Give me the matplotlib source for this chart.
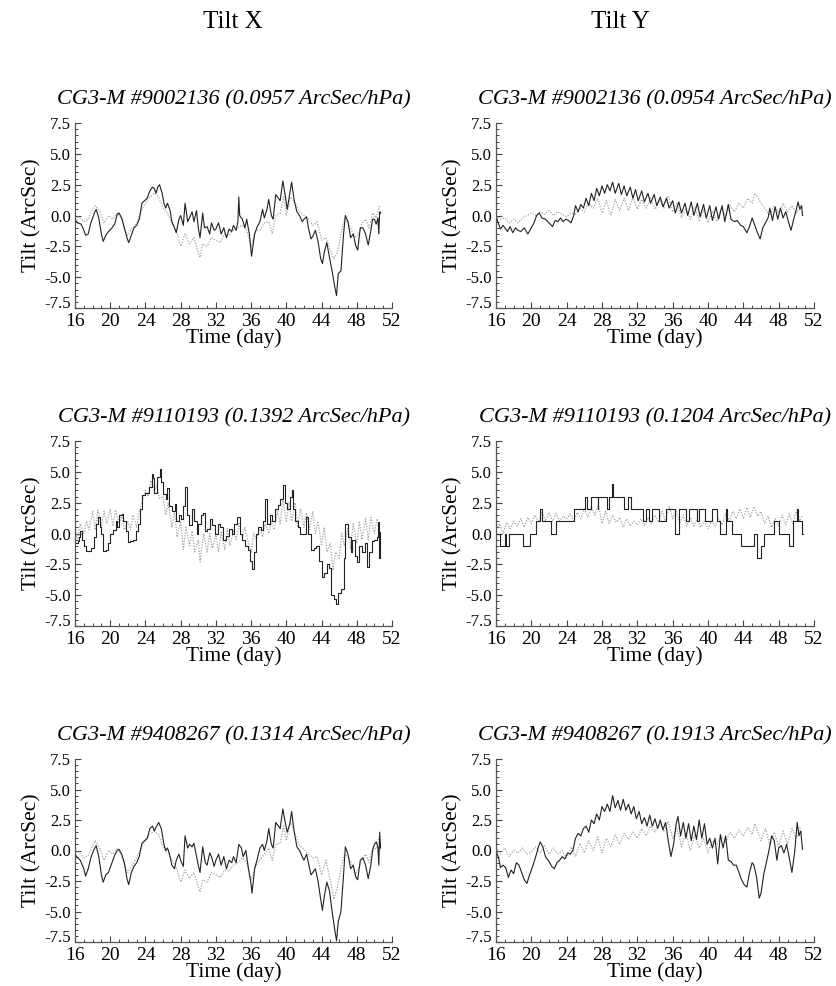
import matplotlib
matplotlib.use("Agg")
import matplotlib.pyplot as plt
import matplotlib.transforms as mtransforms
from matplotlib.ticker import MultipleLocator

plt.rcParams['font.family'] = ['Liberation Serif', 'DejaVu Serif']

column_titles = ["Tilt X", "Tilt Y"]
panel_titles = [
    ["CG3-M #9002136 (0.0957 ArcSec/hPa)", "CG3-M #9002136 (0.0954 ArcSec/hPa)"],
    ["CG3-M #9110193 (0.1392 ArcSec/hPa)", "CG3-M #9110193 (0.1204 ArcSec/hPa)"],
    ["CG3-M #9408267 (0.1314 ArcSec/hPa)", "CG3-M #9408267 (0.1913 ArcSec/hPa)"],
]
x_ticks = [16, 20, 24, 28, 32, 36, 40, 44, 48, 52]
y_ticks = [-7.5, -5.0, -2.5, 0.0, 2.5, 5.0, 7.5]

# ---- Panel 1: Tilt X, #9002136 ----
p1_solid_t = [16.0, 16.3, 16.7, 17.0, 17.2, 17.5, 17.8, 18.2, 18.4, 18.7, 19.0, 19.2, 19.5, 19.8, 20.2, 20.5, 20.8, 21.0, 21.3, 21.6, 21.9, 22.1, 22.4, 22.7, 23.0, 23.3, 23.6, 23.9, 24.2, 24.5, 24.8, 25.0, 25.2, 25.4, 25.6, 25.9, 26.1, 26.3, 26.5, 26.8, 27.0, 27.3, 27.5, 27.8, 28.0, 28.3, 28.5, 28.8, 29.0, 29.3, 29.5, 29.8, 30.0, 30.2, 30.5, 30.7, 31.0, 31.3, 31.5, 31.8, 32.0, 32.3, 32.6, 32.9, 33.2, 33.5, 33.8, 34.0, 34.3, 34.5, 34.6, 34.7, 35.0, 35.3, 35.5, 35.8, 36.05, 36.4, 36.7, 37.0, 37.3, 37.5, 37.8, 38.0, 38.3, 38.5, 38.8, 39.1, 39.3, 39.6, 39.9, 40.1, 40.4, 40.6, 40.9, 41.2, 41.5, 41.8, 42.0, 42.3, 42.5, 42.8, 43.0, 43.3, 43.6, 43.9, 44.1, 44.3, 44.6, 44.9, 45.2, 45.5, 45.7, 45.9, 46.2, 46.5, 46.7, 47.0, 47.3, 47.6, 47.9, 48.1, 48.4, 48.7, 49.0, 49.3, 49.6, 49.8, 50.0, 50.2, 50.4, 50.5, 50.6, 50.7]
p1_solid_v = [-0.3, -0.6, -0.7, -1.2, -1.6, -1.5, -0.6, 0.2, 0.5, -0.2, -1.5, -2.1, -1.6, -1.3, -1.0, -0.7, 0.1, 0.2, -0.2, -1.0, -1.8, -2.2, -1.6, -1.0, -0.8, -0.3, 1.0, 1.2, 1.4, 2.0, 2.3, 2.2, 1.8, 2.3, 2.5, 1.8, 1.0, 0.6, 1.0, 0.4, -0.5, -1.0, -1.4, -0.3, 0.0, -0.8, 1.0, -0.5, -0.2, 0.3, -0.5, 0.4, -1.0, -1.8, 0.2, -1.0, -0.9, -1.5, -0.6, -1.2, -1.1, -0.6, -1.5, -1.0, -1.8, -1.1, -1.3, -0.8, -1.2, -0.5, 1.5, 0.0, -0.3, -1.0, -0.3, -1.5, -3.3, -1.5, -0.9, -0.5, 0.5, -0.2, 0.5, 1.3, 0.0, -0.3, 1.7, 1.4, 1.2, 2.8, 1.5, 0.5, 1.8, 2.7, 1.2, 0.3, 0.0, -0.5, -0.3, -0.1, -1.0, -1.9, -1.7, -1.2, -2.1, -3.5, -3.9, -3.0, -2.2, -3.4, -4.5, -5.8, -6.5, -4.7, -4.5, -1.5, 0.0, -0.5, -1.8, -1.5, -2.5, -2.8, -1.0, -1.0, -1.5, -2.4, -1.2, -0.3, -0.3, -0.7, -0.2, -1.5, 0.3, 0.2]
p1_dot_t = [16.0, 16.5, 17.0, 17.5, 18.0, 18.3, 18.8, 19.3, 19.8, 20.3, 20.8, 21.3, 21.7, 22.0, 22.5, 23.0, 23.5, 24.0, 24.5, 25.0, 25.5, 26.0, 26.5, 27.0, 27.5, 28.0, 28.5, 29.0, 29.5, 30.0, 30.2, 30.5, 31.0, 31.5, 32.0, 32.5, 33.0, 33.5, 34.0, 34.5, 35.0, 35.5, 36.0, 36.5, 37.0, 37.5, 38.0, 38.4, 38.8, 39.3, 39.7, 40.0, 40.5, 41.0, 41.5, 42.0, 42.5, 43.0, 43.5, 44.0, 44.5, 45.0, 45.4, 45.8, 46.2, 46.6, 47.0, 47.4, 47.8, 48.2, 48.6, 49.0, 49.4, 49.8, 50.2, 50.6]
p1_dot_v = [0.0, -0.2, -0.5, -0.3, 0.5, 0.8, 0.3, -0.6, 0.0, -0.3, 0.2, -0.3, -1.2, -1.6, -1.0, -0.6, 0.3, 1.0, 1.5, 1.8, 1.5, 0.6, 0.2, -0.6, -1.2, -2.5, -1.5, -2.3, -1.8, -3.0, -3.4, -2.3, -2.5, -1.8, -2.0, -2.2, -1.5, -1.6, -1.2, -1.0, -0.8, -1.2, -2.5, -1.2, -1.2, -0.6, -0.5, -1.5, 0.0, 0.2, 1.5, 0.0, 1.5, 1.0, 0.3, 0.0, -0.3, -0.8, -0.5, -2.0, -1.8, -2.8, -3.5, -3.0, -1.5, -0.3, -0.6, -1.2, -1.8, -1.5, -0.6, -0.3, -1.0, 0.2, -0.2, 0.8]

# ---- Panel 2: Tilt Y, #9002136 ----
p2_solid_t = [16.0, 16.3, 16.5, 16.8, 17.0, 17.3, 17.6, 17.9, 18.2, 18.5, 18.8, 19.2, 19.6, 20.0, 20.3, 20.6, 20.9, 21.2, 21.6, 22.0, 22.4, 22.7, 23.0, 23.3, 23.6, 23.9, 24.2, 24.5, 24.8, 25.0, 25.3, 25.6, 25.9, 26.2, 26.5, 26.8, 27.1, 27.4, 27.7, 28.0, 28.3, 28.6, 28.9, 29.2, 29.5, 29.9, 30.2, 30.5, 30.8, 31.2, 31.5, 31.8, 32.1, 32.5, 32.8, 33.2, 33.5, 33.9, 34.2, 34.6, 34.9, 35.3, 35.6, 36.0, 36.3, 36.7, 37.0, 37.4, 37.7, 38.1, 38.4, 38.8, 39.1, 39.5, 39.8, 40.2, 40.5, 40.9, 41.2, 41.6, 41.9, 42.3, 42.6, 43.0, 43.3, 43.7, 44.0, 44.4, 44.7, 45.0, 45.3, 45.6, 45.9, 46.2, 46.5, 46.8, 47.0, 47.3, 47.6, 47.9, 48.2, 48.5, 48.8, 49.1, 49.4, 49.7, 50.0, 50.2, 50.4, 50.6, 50.7]
p2_solid_v = [0.0, -0.7, -1.1, -0.8, -1.0, -1.3, -0.9, -1.4, -1.0, -1.2, -1.3, -1.0, -1.5, -1.0, -0.6, 0.0, 0.2, -0.2, -0.3, -0.6, -0.9, -0.4, -0.5, -0.2, -0.5, -0.3, -0.4, -0.6, 0.0, 0.8, 0.3, 0.9, 0.6, 1.4, 0.8, 1.8, 1.2, 2.2, 1.6, 2.4, 1.8, 2.5, 2.0, 2.7, 1.8, 2.6, 1.7, 2.4, 1.6, 2.3, 1.4, 2.1, 1.2, 2.0, 1.1, 1.8, 1.0, 1.7, 0.8, 1.5, 0.7, 1.4, 0.6, 1.2, 0.2, 1.1, 0.2, 1.0, 0.0, 1.1, 0.0, 1.0, -0.1, 0.9, -0.2, 0.8, -0.4, 0.7, -0.3, 0.8, -0.5, 0.9, -0.3, -0.5, -0.4, -0.8, -0.9, -1.4, -0.9, -0.2, -0.8, -1.4, -1.9, -1.0, -0.6, -0.2, 0.6, -0.4, 0.7, -0.3, 0.6, -0.2, 0.3, -0.5, -1.2, -0.3, 0.5, 1.1, 0.5, 0.8, 0.0]
p2_dot_t = [16.0, 16.5, 17.0, 17.5, 18.0, 18.5, 19.0, 19.5, 20.0, 20.5, 21.0, 21.5, 22.0, 22.5, 23.0, 23.5, 24.0, 24.5, 25.0, 25.5, 26.0, 26.5, 27.0, 27.5, 28.0, 28.5, 29.0, 29.5, 30.0, 30.5, 31.0, 31.5, 32.0, 32.5, 33.0, 33.5, 34.0, 34.5, 35.0, 35.5, 36.0, 36.5, 37.0, 37.5, 38.0, 38.5, 39.0, 39.5, 40.0, 40.5, 41.0, 41.5, 42.0, 42.5, 43.0, 43.5, 44.0, 44.5, 45.0, 45.3, 45.7, 46.0, 46.5, 47.0, 47.5, 48.0, 48.5, 49.0, 49.5, 50.0, 50.5]
p2_dot_v = [0.0, -0.3, -0.2, -0.6, -0.3, -0.6, -0.2, 0.0, 0.2, 0.0, 0.3, 0.1, 0.4, 0.0, 0.3, 0.1, -0.1, 0.2, 0.1, 0.6, 0.3, 1.0, 0.6, 1.4, 0.2, 1.2, 0.0, 1.3, 0.4, 1.4, 0.4, 1.5, 0.5, 1.3, 0.6, 1.4, 0.5, 1.3, 0.6, 1.6, 0.3, 1.0, -0.2, 0.6, -0.3, 0.7, -0.4, 0.5, -0.6, 0.4, -0.5, 0.6, 0.0, 0.8, 0.3, 1.0, 0.6, 1.4, 1.0, 1.8, 1.4, 1.0, 0.5, 0.0, 0.8, 0.2, 1.0, 0.3, 0.8, 0.2, 0.8]

# ---- Panel 3: Tilt X, #9110193 (quantised record) ----
p3_solid_t = [16.0, 16.3, 16.5, 16.6, 16.8, 17.0, 17.3, 17.8, 18.2, 18.4, 18.6, 18.8, 19.0, 19.2, 19.5, 19.8, 20.0, 20.3, 20.6, 20.8, 21.0, 21.3, 21.5, 21.8, 22.0, 22.3, 22.6, 22.9, 23.2, 23.4, 23.6, 24.0, 24.4, 24.7, 24.9, 25.0, 25.3, 25.6, 25.8, 26.0, 26.3, 26.5, 26.7, 27.0, 27.3, 27.5, 27.8, 28.0, 28.3, 28.5, 28.7, 29.0, 29.3, 29.5, 29.8, 30.0, 30.3, 30.5, 30.8, 31.0, 31.3, 31.6, 31.9, 32.2, 32.5, 32.8, 33.1, 33.5, 33.8, 34.1, 34.4, 34.7, 35.0, 35.3, 35.6, 35.9, 36.1, 36.3, 36.5, 36.8, 37.1, 37.4, 37.6, 37.8, 38.1, 38.4, 38.7, 39.0, 39.3, 39.6, 39.9, 40.1, 40.4, 40.6, 40.8, 41.0, 41.3, 41.6, 41.9, 42.2, 42.5, 42.8, 43.1, 43.4, 43.7, 44.0, 44.3, 44.6, 44.9, 45.1, 45.4, 45.6, 45.9, 46.2, 46.5, 46.7, 47.0, 47.3, 47.5, 47.8, 48.0, 48.3, 48.6, 48.9, 49.2, 49.4, 49.7, 50.0, 50.3, 50.4, 50.5, 50.6]
p3_solid_v = [-0.8, -0.6, -0.3, 0.2, -0.5, -1.0, -1.4, -1.2, -0.3, 0.8, 1.3, 0.5, 0.0, -1.4, -1.3, -0.8, 0.0, 0.3, 1.0, 0.5, 1.5, 1.6, 1.0, 0.2, -0.7, -0.6, -0.5, 0.2, 0.8, 2.0, 3.1, 3.3, 3.8, 4.8, 4.5, 3.3, 4.6, 5.2, 4.2, 3.2, 2.8, 3.7, 2.2, 1.8, 2.4, 1.0, 1.5, 1.2, 2.2, 3.8, 1.5, 0.7, 2.0, 1.0, 0.0, 0.8, 1.5, 1.7, 0.2, 0.4, 1.2, 0.7, 0.0, 0.8, 0.5, -0.5, -0.2, 0.4, 0.0, 0.8, 1.3, 0.0, -0.5, -1.0, -1.3, -2.2, -2.9, -1.5, 0.0, 0.5, 0.3, 1.0, 2.8, 0.8, 1.5, 1.0, 2.0, 2.3, 2.8, 3.9, 2.5, 2.0, 3.0, 3.5, 2.0, 1.0, 0.5, 0.0, 0.0, 1.3, 0.0, -1.3, -1.2, -1.0, -2.2, -3.5, -3.2, -2.5, -2.8, -5.0, -5.3, -5.7, -4.8, -4.5, -2.0, 0.8, -0.3, -1.5, -0.5, -1.8, -2.3, -1.0, -1.5, -0.8, -2.7, -1.5, -0.6, -0.5, -0.3, 0.9, -2.0, 0.1]
p3_dot_t = [16.0, 16.3, 16.6, 17.0, 17.3, 17.6, 18.0, 18.3, 18.6, 19.0, 19.3, 19.6, 20.0, 20.3, 20.6, 21.0, 21.3, 21.6, 22.0, 22.3, 22.6, 23.0, 23.3, 23.6, 24.0, 24.3, 24.6, 25.0, 25.3, 25.6, 26.0, 26.3, 26.6, 27.0, 27.3, 27.6, 28.0, 28.3, 28.6, 29.0, 29.3, 29.6, 30.0, 30.2, 30.6, 31.0, 31.3, 31.6, 32.0, 32.3, 32.6, 33.0, 33.3, 33.6, 34.0, 34.3, 34.6, 35.0, 35.3, 35.6, 36.0, 36.3, 36.6, 37.0, 37.3, 37.6, 38.0, 38.3, 38.6, 39.0, 39.3, 39.6, 40.0, 40.3, 40.6, 41.0, 41.3, 41.6, 42.0, 42.3, 42.6, 43.0, 43.3, 43.6, 44.0, 44.3, 44.6, 45.0, 45.3, 45.6, 46.0, 46.3, 46.6, 47.0, 47.3, 47.6, 48.0, 48.3, 48.6, 49.0, 49.3, 49.6, 50.0, 50.3, 50.6]
p3_dot_v = [0.5, -0.5, 0.8, 0.0, 1.0, 0.3, 1.8, 0.3, 1.9, 0.5, 1.8, 0.8, 2.0, 0.6, 1.9, 0.8, 1.5, 0.3, 1.0, 0.3, 1.5, 0.5, 1.8, 2.5, 3.5, 3.0, 4.3, 3.5, 3.9, 2.8, 3.0, 1.5, 2.5, 0.5, 1.8, -0.3, 1.0, -1.3, 0.5, -1.0, 0.2, -1.5, -0.5, -2.3, 0.0, -1.5, 0.0, -1.2, 0.0, -1.5, 0.2, -1.3, 0.4, -1.0, 0.2, -0.5, 0.8, -0.3, 0.5, -0.5, -1.5, 0.0, -0.5, 0.5, -0.3, 0.8, 0.0, 1.0, 0.3, 1.8, 0.8, 2.8, 1.0, 2.5, 1.0, 2.5, 0.5, 2.0, 0.5, 1.7, 0.3, 1.8, 0.0, 1.0, -1.0, 0.5, -1.5, -0.8, -3.0, -1.5, -2.0, 0.0, -1.0, 0.5, -1.2, 0.8, -0.8, 1.0, -0.5, 1.2, -0.5, 1.3, 0.0, 1.2, 0.5]

# ---- Panel 4: Tilt Y, #9110193 (1 ArcSec resolution, step record) ----
p4_solid_t = [16.0, 16.5, 17.05, 17.15, 17.5, 19.0, 19.8, 20.5, 21.0, 21.2, 22.2, 22.8, 24.85, 26.1, 26.3, 26.7, 27.5, 27.6, 28.6, 28.8, 29.15, 29.25, 30.5, 30.9, 31.3, 32.6, 33.0, 33.3, 33.7, 34.4, 35.3, 36.3, 36.7, 37.5, 37.85, 38.8, 39.0, 39.7, 40.5, 41.0, 41.4, 42.05, 42.15, 42.75, 43.7, 45.2, 45.6, 46.0, 46.3, 47.5, 48.0, 49.2, 49.6, 50.05, 50.15, 50.65, 50.7]
p4_solid_v = [0, -1, 0, -1, 0, -1, 0, 1, 2, 1, 0, 1, 2, 3, 2, 3, 2, 3, 2, 3, 4, 3, 2, 3, 2, 1, 2, 1, 2, 1, 2, 0, 2, 1, 2, 1, 2, 1, 2, 1, 0, 2, 1, 0, -1, 0, -2, -1, 0, 1, 0, -1, 1, 2, 1, 0, 0]
p4_dot_t = [16.0, 16.4, 16.8, 17.2, 17.6, 18.0, 18.4, 18.8, 19.2, 19.6, 20.0, 20.4, 20.8, 21.2, 21.6, 22.0, 22.4, 22.8, 23.2, 23.6, 24.0, 24.4, 24.8, 25.2, 25.6, 26.0, 26.4, 26.8, 27.2, 27.6, 28.0, 28.4, 28.8, 29.2, 29.6, 30.0, 30.4, 30.8, 31.2, 31.6, 32.0, 32.4, 32.8, 33.2, 33.6, 34.0, 34.4, 34.8, 35.2, 35.6, 36.0, 36.4, 36.8, 37.2, 37.6, 38.0, 38.4, 38.8, 39.2, 39.6, 40.0, 40.4, 40.8, 41.2, 41.6, 42.0, 42.4, 42.8, 43.2, 43.6, 44.0, 44.4, 44.8, 45.2, 45.6, 46.0, 46.4, 46.8, 47.2, 47.6, 48.0, 48.4, 48.8, 49.2, 49.6, 50.0, 50.4, 50.7]
p4_dot_v = [0.3, 0.8, 0.0, 0.9, 0.4, 1.0, 0.6, 1.2, 0.5, 1.3, 0.8, 1.5, 0.9, 1.8, 1.0, 1.7, 1.0, 1.6, 1.0, 1.4, 1.2, 1.6, 1.0, 1.7, 1.2, 2.0, 1.3, 2.2, 1.5, 2.3, 0.8, 1.8, 0.8, 1.5, 0.9, 1.3, 0.5, 1.2, 0.6, 1.0, 0.7, 1.2, 0.6, 1.3, 0.8, 1.5, 0.9, 1.8, 1.0, 2.2, 1.2, 1.8, 0.8, 1.5, 0.6, 1.3, 0.6, 1.2, 0.5, 1.0, 0.4, 1.0, 0.6, 1.2, 0.7, 1.6, 1.0, 1.8, 1.2, 2.0, 1.2, 2.1, 1.3, 2.2, 1.4, 1.8, 0.8, 1.4, 0.5, 1.2, 0.6, 1.5, 0.7, 1.6, 0.8, 1.8, 1.0, 1.5]

# ---- Panel 5: Tilt X, #9408267 ----
p5_solid_t = [16.0, 16.3, 16.6, 17.0, 17.2, 17.5, 17.8, 18.1, 18.4, 18.7, 19.0, 19.2, 19.5, 19.8, 20.2, 20.5, 20.8, 21.0, 21.3, 21.6, 21.9, 22.1, 22.4, 22.7, 23.0, 23.3, 23.6, 23.9, 24.2, 24.5, 24.8, 25.0, 25.2, 25.5, 25.8, 26.1, 26.3, 26.5, 26.7, 27.0, 27.3, 27.5, 27.8, 28.0, 28.3, 28.5, 28.8, 29.0, 29.3, 29.5, 29.8, 30.0, 30.2, 30.5, 30.8, 31.0, 31.3, 31.5, 31.8, 32.0, 32.3, 32.6, 32.9, 33.2, 33.5, 33.8, 34.0, 34.3, 34.6, 34.9, 35.1, 35.4, 35.7, 36.0, 36.1, 36.4, 36.7, 37.0, 37.3, 37.5, 37.8, 38.0, 38.3, 38.5, 38.8, 39.1, 39.3, 39.6, 39.9, 40.1, 40.4, 40.6, 40.9, 41.2, 41.5, 41.8, 42.0, 42.3, 42.5, 42.8, 43.0, 43.3, 43.6, 43.9, 44.1, 44.3, 44.6, 44.9, 45.2, 45.5, 45.7, 45.9, 46.2, 46.5, 46.7, 47.0, 47.3, 47.6, 47.9, 48.1, 48.4, 48.7, 49.0, 49.3, 49.6, 49.8, 50.0, 50.2, 50.4, 50.5, 50.6, 50.7]
p5_solid_v = [-0.3, -0.6, -0.8, -1.5, -2.1, -1.5, -0.6, 0.0, 0.4, -0.5, -2.0, -2.6, -2.0, -1.8, -1.0, -0.4, 0.0, 0.1, -0.3, -1.0, -2.3, -2.8, -1.8, -1.3, -1.0, -0.5, 0.6, 0.8, 1.0, 1.8, 2.0, 1.6, 1.9, 2.3, 1.8, 0.5, 0.0, 0.2, -0.2, -1.2, -1.5, -0.8, -0.3, -0.8, -1.3, 1.2, 0.2, 0.5, 0.3, 0.6, -0.5, -1.2, -1.8, 0.3, -1.0, -1.2, -0.2, -0.5, -1.3, -0.8, -0.3, -1.2, -0.5, -1.5, -0.8, -1.0, -0.5, -1.0, 0.5, 0.2, -0.5, 0.0, -1.5, -2.8, -3.5, -1.5, -0.7, 0.2, 0.5, 0.0, 0.8, 1.8, 0.5, 0.2, 2.3, 2.0, 1.8, 3.4, 2.2, 1.5, 2.2, 3.2, 1.5, 0.3, 0.0, -0.5, -0.8, -0.3, -1.0, -2.0, -1.8, -1.5, -2.5, -4.0, -4.9, -3.8, -2.6, -3.3, -5.0, -6.5, -7.4, -5.8, -5.0, -2.0, 0.3, -0.3, -1.5, -1.2, -2.2, -2.4, -0.8, -0.6, -1.2, -2.3, -1.2, 0.0, 0.5, 0.7, 0.3, -1.2, 1.5, 0.2]
p5_dot_t = [16.0, 16.5, 17.0, 17.5, 18.0, 18.3, 18.8, 19.3, 19.8, 20.3, 20.8, 21.3, 21.7, 22.0, 22.5, 23.0, 23.5, 24.0, 24.5, 25.0, 25.5, 26.0, 26.5, 27.0, 27.5, 28.0, 28.5, 29.0, 29.5, 30.0, 30.2, 30.5, 31.0, 31.5, 32.0, 32.5, 33.0, 33.5, 34.0, 34.5, 35.0, 35.5, 36.0, 36.5, 37.0, 37.5, 38.0, 38.4, 38.8, 39.3, 39.7, 40.0, 40.5, 41.0, 41.5, 42.0, 42.5, 43.0, 43.5, 44.0, 44.5, 45.0, 45.4, 45.8, 46.2, 46.6, 47.0, 47.4, 47.8, 48.2, 48.6, 49.0, 49.4, 49.8, 50.2, 50.6]
p5_dot_v = [0.0, -0.2, -0.6, -0.4, 0.4, 0.8, 0.2, -0.8, 0.0, -0.3, 0.2, -0.4, -1.3, -1.8, -1.2, -0.6, 0.2, 0.8, 1.3, 1.6, 1.3, 0.3, -0.2, -0.8, -1.4, -2.6, -1.6, -2.3, -1.8, -3.0, -3.4, -2.4, -2.6, -1.8, -2.0, -2.2, -1.6, -1.7, -1.2, -1.0, -0.6, -1.0, -2.4, -1.3, -0.8, -0.3, 0.2, -0.8, 0.5, 0.6, 2.0, 0.8, 2.3, 1.3, 0.4, 0.1, -0.3, -0.6, -0.5, -2.0, -0.8, -2.5, -4.0, -3.0, -1.5, -0.3, -0.5, -1.0, -2.0, -1.5, -0.8, -0.3, -1.0, 0.3, 0.1, 1.3]

# ---- Panel 6: Tilt Y, #9408267 ----
p6_solid_t = [16.0, 16.3, 16.5, 16.8, 17.1, 17.4, 17.7, 18.0, 18.3, 18.6, 18.9, 19.2, 19.5, 19.8, 20.2, 20.5, 20.8, 21.0, 21.3, 21.6, 22.0, 22.3, 22.6, 22.9, 23.2, 23.5, 23.8, 24.1, 24.4, 24.7, 25.0, 25.3, 25.6, 25.9, 26.2, 26.5, 26.8, 27.1, 27.4, 27.7, 28.0, 28.3, 28.6, 28.9, 29.2, 29.5, 29.8, 30.1, 30.4, 30.7, 31.0, 31.3, 31.6, 31.9, 32.2, 32.5, 32.8, 33.1, 33.4, 33.7, 34.0, 34.3, 34.6, 34.9, 35.2, 35.5, 35.8, 36.1, 36.4, 36.6, 36.9, 37.2, 37.5, 37.8, 38.1, 38.4, 38.7, 39.0, 39.3, 39.6, 39.9, 40.2, 40.5, 40.8, 41.1, 41.4, 41.7, 42.0, 42.3, 42.6, 42.9, 43.2, 43.5, 43.8, 44.1, 44.4, 44.7, 45.0, 45.2, 45.5, 45.8, 46.0, 46.3, 46.6, 46.9, 47.2, 47.5, 47.8, 48.0, 48.3, 48.6, 48.9, 49.2, 49.5, 49.8, 50.1, 50.3, 50.5, 50.7]
p6_solid_v = [0.0, -0.6, -1.4, -1.2, -1.4, -2.2, -1.6, -1.9, -1.0, -1.2, -1.8, -2.4, -2.7, -2.0, -1.2, -0.5, 0.3, 0.7, 0.3, -0.5, -0.9, -1.3, -1.5, -1.0, -0.8, -0.5, -0.7, -0.2, -0.3, 0.0, 1.0, 1.4, 1.2, 1.8, 2.0, 1.5, 2.5, 2.2, 3.0, 2.5, 3.6, 3.2, 3.8, 3.2, 4.5, 3.5, 4.1, 3.3, 4.2, 3.3, 3.8, 3.0, 3.6, 2.6, 3.2, 2.2, 2.7, 2.0, 2.9, 2.0, 2.6, 1.8, 2.5, 1.7, 2.3, 0.8, -0.5, 0.5, 2.2, 2.8, 1.2, 2.3, 1.0, 2.2, 0.8, 2.0, 0.9, 2.5, 1.0, 2.2, 0.5, 1.0, 0.2, 1.0, -1.1, 1.3, 0.2, 1.2, -0.8, -0.9, -1.2, -1.2, -1.8, -2.4, -2.8, -3.0, -1.8, -1.0, -1.2, -2.2, -3.9, -3.5, -2.0, -1.0, 0.0, 1.2, 0.8, -0.8, 0.2, 0.4, -0.2, 0.5, -0.6, -1.8, -0.2, 2.3, 1.2, 1.6, 0.1]
p6_dot_t = [16.0, 16.5, 17.0, 17.5, 18.0, 18.5, 19.0, 19.5, 20.0, 20.5, 21.0, 21.5, 22.0, 22.5, 23.0, 23.5, 24.0, 24.5, 25.0, 25.5, 26.0, 26.5, 27.0, 27.5, 28.0, 28.5, 29.0, 29.5, 30.0, 30.5, 31.0, 31.5, 32.0, 32.5, 33.0, 33.5, 34.0, 34.5, 35.0, 35.5, 36.0, 36.5, 37.0, 37.5, 38.0, 38.5, 39.0, 39.5, 40.0, 40.5, 41.0, 41.5, 42.0, 42.5, 43.0, 43.5, 44.0, 44.5, 45.0, 45.3, 45.7, 46.0, 46.5, 47.0, 47.5, 48.0, 48.5, 49.0, 49.5, 50.0, 50.5]
p6_dot_v = [0.3, -0.3, 0.2, -0.5, 0.0, -0.2, 0.2, -0.3, -0.1, 0.3, -0.2, 0.4, -0.3, 0.2, -0.3, 0.0, -0.6, 0.3, -0.5, 0.6, -0.2, 0.8, 0.0, 1.1, -0.2, 1.0, 0.3, 1.3, 0.5, 1.4, 0.9, 1.5, 1.0, 1.8, 1.2, 2.0, 1.5, 2.2, 1.6, 2.4, 1.0, 1.8, 0.3, 1.5, 0.0, 1.3, 0.2, 1.0, -0.2, 0.8, 0.5, 1.2, 0.7, 1.5, 1.0, 1.7, 1.2, 1.9, 1.3, 2.2, 1.4, 0.8, 1.8, 0.5, 1.5, 0.3, 1.6, 0.5, 1.8, 1.0, 2.0]

solid_series = [[(p1_solid_t, p1_solid_v), (p2_solid_t, p2_solid_v)],
                [(p3_solid_t, p3_solid_v), (p4_solid_t, p4_solid_v)],
                [(p5_solid_t, p5_solid_v), (p6_solid_t, p6_solid_v)]]
dotted_series = [[(p1_dot_t, p1_dot_v), (p2_dot_t, p2_dot_v)],
                 [(p3_dot_t, p3_dot_v), (p4_dot_t, p4_dot_v)],
                 [(p5_dot_t, p5_dot_v), (p6_dot_t, p6_dot_v)]]
step_panels = {(1, 0), (1, 1)}

fig = plt.figure(figsize=(8.36, 9.86), dpi=100)
W, H = 836.0, 986.0
col_left = [75, 496]
col_right = [392, 814]
row_top = [123, 441, 759]
row_bot = [308, 626, 942]

for r in range(3):
    for c in range(2):
        ax = fig.add_axes([col_left[c] / W, 1 - row_bot[r] / H,
                           (col_right[c] - col_left[c]) / W,
                           (row_bot[r] - row_top[r]) / H])
        dt, dv = dotted_series[r][c]
        st, sv = solid_series[r][c]
        ax.plot(dt, dv, color='#a5a5a5', lw=0.9, linestyle=(0, (1, 1.2)))
        ds = 'steps-post' if (r, c) in step_panels else 'default'
        ax.plot(st, sv, color='#222222', lw=0.8, drawstyle=ds)
        ax.set_xlim(16, 52)
        ax.set_ylim(-7.5, 7.5)
        ax.set_xticks(x_ticks)
        ax.set_xticklabels([str(v) for v in x_ticks])
        ax.set_yticks(y_ticks)
        ax.set_yticklabels([f"{v:.1f}" for v in y_ticks])
        ax.xaxis.set_minor_locator(MultipleLocator(1))
        ax.yaxis.set_minor_locator(MultipleLocator(0.5))
        ax.tick_params(axis='both', which='both', direction='in', colors='#444444')
        ax.tick_params(axis='both', which='major', length=4, width=0.8)
        ax.tick_params(axis='both', which='minor', length=2, width=0.7)
        ax.tick_params(axis='x', which='major', labelsize=14, pad=3.5, labelcolor='black')
        ax.tick_params(axis='y', which='major', labelsize=12, pad=3, labelcolor='black')
        # lift the bottom y label a little so it clears the first x label
        low = ax.get_yticklabels()[0]
        low.set_transform(low.get_transform() +
                          mtransforms.ScaledTranslation(0, 4 / 72, fig.dpi_scale_trans))
        for s in ['top', 'right']:
            ax.spines[s].set_visible(False)
        for s in ['left', 'bottom']:
            ax.spines[s].set_color('#555555')
            ax.spines[s].set_linewidth(0.9)
        ax.set_xlabel("Time (day)", fontsize=15.5, labelpad=-1)
        ax.set_ylabel("Tilt (ArcSec)", fontsize=15.5, labelpad=2)
        ax.set_title(panel_titles[r][c], fontsize=16, style='italic', pad=13)

fig.text(233 / W, 1 - 22 / H, column_titles[0], fontsize=18, ha='center', va='center')
fig.text(620 / W, 1 - 22 / H, column_titles[1], fontsize=18, ha='center', va='center')

fig.savefig("out.png", dpi=100)
